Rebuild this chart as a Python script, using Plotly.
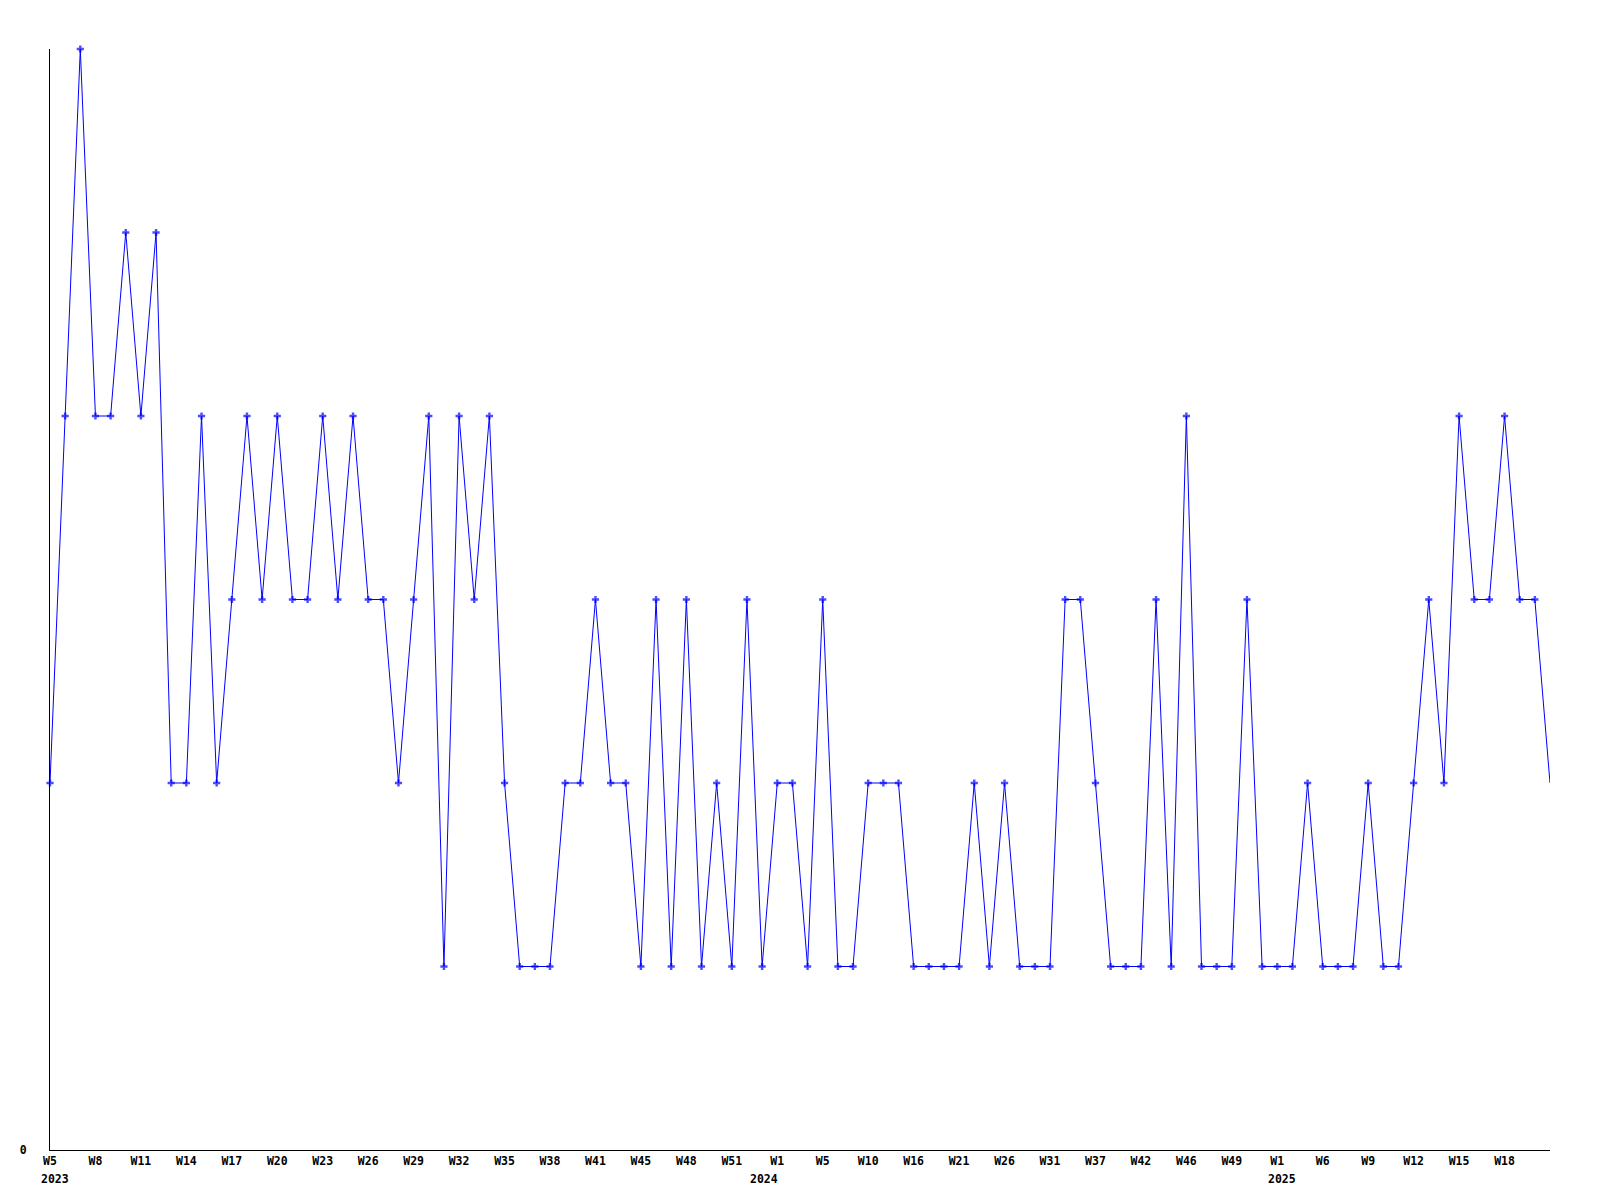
import plotly.graph_objects as go

# Weekly values (one per point, left to right)
values = [
    2, 4, 6, 4, 4, 5, 4, 5, 2, 2,
    4, 2, 3, 4, 3, 4, 3, 3, 4, 3,
    4, 3, 3, 2, 3, 4, 1, 4, 3, 4,
    2, 1, 1, 1, 2, 2, 3, 2, 2, 1,
    3, 1, 3, 1, 2, 1, 3, 1, 2, 2,
    1, 3, 1, 1, 2, 2, 2, 1, 1, 1,
    1, 2, 1, 2, 1, 1, 1, 3, 3, 2,
    1, 1, 1, 3, 1, 4, 1, 1, 1, 3,
    1, 1, 1, 2, 1, 1, 1, 2, 1, 1,
    2, 3, 2, 4, 3, 3, 4, 3, 3, 2,
]

# Tick labels shown every third point
tick_labels = [
    "W5", "W8", "W11", "W14", "W17", "W20", "W23", "W26", "W29", "W32",
    "W35", "W38", "W41", "W45", "W48", "W51", "W1", "W5", "W10", "W16",
    "W21", "W26", "W31", "W37", "W42", "W46", "W49", "W1", "W6", "W9",
    "W12", "W15", "W18",
]
tick_step = 3

# Year markers: (tick label index, year text, alignment)
year_labels = [(0, "2023", "left"), (16, "2024", "right"), (27, "2025", "left")]

x = list(range(len(values)))
tick_positions = [i * tick_step for i in range(len(tick_labels))]

font_family = "DejaVu Sans Mono"
font = dict(family=font_family, size=11.5, color="black", weight="bold")

marker_sizes = [6] * (len(values) - 1) + [0]

fig = go.Figure()
fig.add_trace(go.Scatter(
    x=x, y=values, mode="lines+markers",
    line=dict(color="#0000FF", width=1),
    marker=dict(symbol="cross", size=marker_sizes, color="#0000FF", line=dict(width=0)),
    cliponaxis=False,
    showlegend=False,
    hoverinfo="x+y",
))

annotations = []
for idx, text, align in year_labels:
    annotations.append(dict(
        x=tick_positions[idx], y=0, xref="x", yref="paper",
        text=text, showarrow=False,
        xanchor=align, yanchor="top",
        xshift=-11 if align == "left" else 3,
        yshift=-20,
        font=font,
    ))

# page body has an 8px default margin; margins compensate so the plot area
# lands at x 50..1550, y 49..1150 of the window
fig.update_layout(
    width=1600, height=1200,
    margin=dict(l=42, r=58, t=41, b=58, pad=0),
    paper_bgcolor="white", plot_bgcolor="white",
    xaxis=dict(
        range=[0, len(values) - 1],
        tickmode="array", tickvals=tick_positions, ticktext=tick_labels,
        showgrid=False, zeroline=False,
        showline=True, linecolor="black", linewidth=1,
        ticks="", tickfont=font, ticklabelstandoff=0,
    ),
    yaxis=dict(
        range=[0, 6],
        tickmode="array", tickvals=[0], ticktext=["0"],
        showgrid=False, zeroline=False,
        showline=True, linecolor="black", linewidth=1,
        ticks="", tickfont=font, ticklabelstandoff=20,
    ),
    annotations=annotations,
)

fig.write_html("out.html")
